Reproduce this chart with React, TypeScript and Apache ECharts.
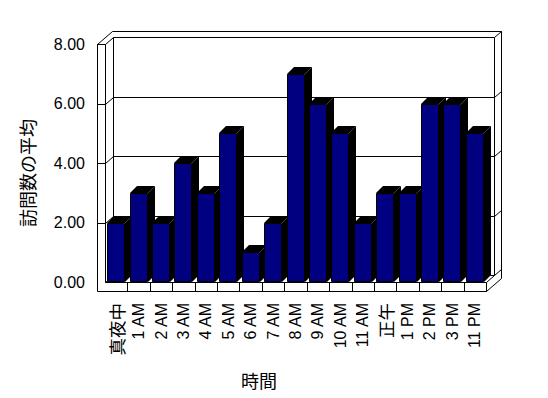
import React, { useEffect, useRef } from 'react';
import * as echarts from 'echarts';

const categories = ['真夜中', '1 AM', '2 AM', '3 AM', '4 AM', '5 AM', '6 AM', '7 AM', '8 AM', '9 AM', '10 AM', '11 AM', '正午', '1 PM', '2 PM', '3 PM', '11 PM'];
const visits = [2, 3, 2, 4, 3, 5, 1, 2, 7, 6, 5, 2, 3, 3, 6, 6, 5];
const yTicks = [0, 2, 4, 6, 8];
const yTitle = '訪問数の平均';
const xTitle = '時間';

const FONT = '"Liberation Sans", Arial, "Noto Sans CJK JP", sans-serif';
const CJK = '"Noto Sans CJK JP", sans-serif';

export default function App() {
  const ref = useRef<HTMLDivElement>(null);
  useEffect(() => {
    const chart = echarts.init(ref.current!, null, { renderer: 'svg' });
    const WALL = 8;
    const FLOOR = 9;
    const IN = [8, -7];
    const OUT = [15, -13];
    const BAR = [7, -7];
    const px = (v: number) => Math.round(v) + 0.5;
    const pp = (p: number[]) => [px(p[0]), px(p[1])];
    const line = (pts: number[][]) => ({
      type: 'polyline',
      silent: true,
      shape: { points: pts.map(pp) },
      style: { stroke: '#000', lineWidth: 1, fill: null },
    });

    const option: any = {
      animation: false,
      backgroundColor: '#fff',
      grid: { left: 105, right: 62, top: 44, bottom: 116 },
      xAxis: {
        type: 'category',
        data: categories,
        axisLine: { show: false },
        axisTick: { show: false },
        splitLine: { show: false },
        axisLabel: {
          rotate: 90, margin: 21, interval: 0, fontSize: 16, fontFamily: FONT, color: '#000',
          formatter: (v: string) => (/[^\x00-\x7F]/.test(v) ? `{c|${v}}` : v),
          rich: { c: { fontSize: 17.5, fontFamily: CJK, color: '#000' } },
        },
      },
      yAxis: {
        type: 'value',
        min: 0,
        max: 8,
        interval: 2,
        axisLine: { show: false },
        axisTick: { show: false },
        splitLine: { show: false },
        axisLabel: { margin: 20, fontSize: 16, fontFamily: FONT, color: '#000', formatter: (v: number) => v.toFixed(2) },
      },
      graphic: [
        {
          type: 'text', x: 27, y: 173, rotation: Math.PI / 2, z: 10,
          style: { text: yTitle, fontSize: 18, fontFamily: CJK, fill: '#000', align: 'center', verticalAlign: 'middle' },
        },
        {
          type: 'text', x: 259, y: 380, z: 10,
          style: { text: xTitle, fontSize: 18, fontFamily: CJK, fill: '#000', align: 'center', verticalAlign: 'middle' },
        },
      ],
      series: [
        {
          type: 'custom',
          z: 1,
          silent: true,
          clip: false,
          data: [[0, 0]],
          encode: { x: 0, y: 1 },
          renderItem: (params: any, api: any) => {
            const cs = params.coordSys;
            const L = cs.x, R = cs.x + cs.width, T = cs.y, B = cs.y + cs.height;
            const band = api.size([1, 0])[0];
            const children: any[] = [];
            children.push({
              type: 'polygon',
              silent: true,
              shape: { points: [[L - WALL, T], [L, T], [L, B], [R, B], [R, B + FLOOR], [L - WALL, B + FLOOR]].map(pp) },
              style: { fill: '#fff', stroke: '#000', lineWidth: 1 },
            });
            children.push(line([[L - WALL, T], [L - WALL + OUT[0], T + OUT[1]], [R + OUT[0], T + OUT[1]], [R + OUT[0], B + FLOOR + OUT[1]], [R, B + FLOOR]]));
            children.push(line([[L + IN[0], T + IN[1]], [L + IN[0], B + IN[1]]]));
            children.push(line([[R + IN[0], T + IN[1]], [R + IN[0], B + IN[1]]]));
            yTicks.forEach((v, k) => {
              const y = api.coord([0, v])[1];
              const pts = [[L, y], [L + IN[0], y + IN[1]], [R + IN[0], y + IN[1]], [R + OUT[0], y + OUT[1]]];
              if (k > 0) pts.unshift([L - WALL, y]);
              children.push(line(pts));
            });
            children.push(line([[R, B], [R + IN[0], B + IN[1]]]));
            for (let k = 1; k < categories.length; k++) {
              const x = L + k * band;
              children.push(line([[x, B], [x, B + FLOOR]]));
            }
            return { type: 'group', children };
          },
        },
        {
          type: 'custom',
          z: 2,
          clip: false,
          data: visits.map((v, i) => [i, v]),
          encode: { x: 0, y: 1 },
          renderItem: (params: any, api: any) => {
            const i = api.value(0);
            const v = api.value(1);
            const top = api.coord([i, v]);
            const base = api.coord([i, 0]);
            const band = api.size([1, 0])[0];
            const w = Math.round(band * 0.8);
            const x0 = Math.round(top[0] - w / 2);
            const x1 = x0 + w;
            const yt = Math.round(top[1]);
            const yb = Math.round(base[1]);
            return {
              type: 'group',
              children: [
                { type: 'polygon', shape: { points: [[x1, yt], [x1 + BAR[0], yt + BAR[1]], [x1 + BAR[0], yb + BAR[1]], [x1, yb]] }, style: { fill: '#000' } },
                { type: 'polygon', shape: { points: [[x0, yt], [x1, yt], [x1 + BAR[0], yt + BAR[1]], [x0 + BAR[0], yt + BAR[1]]] }, style: { fill: '#000' } },
                { type: 'rect', shape: { x: x0 + 0.5, y: yt + 0.5, width: w - 1, height: yb - yt - 1 }, style: { fill: '#000080', stroke: '#000', lineWidth: 1 } },
              ],
            };
          },
        },
      ],
    };
    chart.setOption(option);
    return () => chart.dispose();
  }, []);
  return <div ref={ref} style={{ position: 'absolute', left: 0, top: 0, width: 548, height: 398 }} />;
}
